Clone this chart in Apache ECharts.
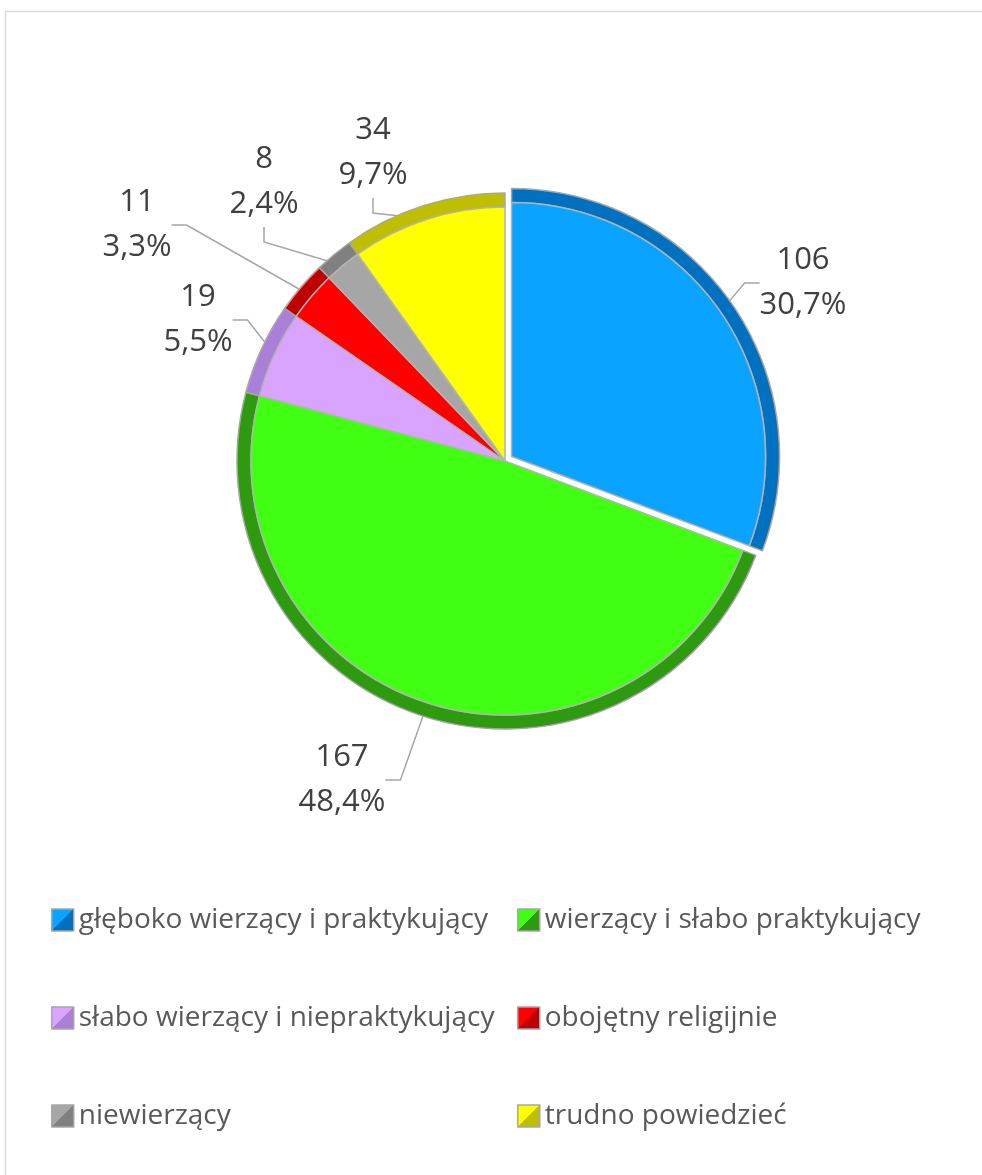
<!DOCTYPE html>
<html>
<head>
<meta charset="utf-8">
<script src="https://cdn.jsdelivr.net/npm/echarts@6/dist/echarts.min.js"></script>
<style>
  html, body { margin: 0; padding: 0; background: #fff; }
  #chart { width: 982px; height: 1175px; }
</style>
</head>
<body>
<div id="chart"></div>
<script>
  // kategorie i wartości
  var categories = ['głęboko wierzący i praktykujący', 'wierzący i słabo praktykujący',
    'słabo wierzący i niepraktykujący', 'obojętny religijnie', 'niewierzący', 'trudno powiedzieć'];
  var counts = [106, 167, 19, 11, 8, 34];
  var percents = ['30,7%', '48,4%', '5,5%', '3,3%', '2,4%', '9,7%'];

  var faceColors = ['#0aa3ff', '#41ff12', '#d8a4ff', '#ff0000', '#a6a6a6', '#ffff00'];
  var rimColors = ['#0070c0', '#2e9a10', '#a97fd9', '#c00000', '#808080', '#bfbf00'];
  // środki etykiet (x, y)
  var labelSpots = [[803, 283], [342, 780], [198, 320], [137, 225], [264, 182], [373, 153]];

  var cx = 505, cy = 461, rIn = 254, rOut = 268, explode = 8;
  var total = counts.reduce(function (a, b) { return a + b; }, 0);
  var midAngle = (90 - 180 * counts[0] / total) * Math.PI / 180;
  var blueCenter = [cx + explode * Math.cos(midAngle), cy - explode * Math.sin(midAngle)];

  var chart = echarts.init(document.getElementById('chart'));

  // wycinek pokazany tylko, gdy show(i) jest true; reszta przezroczysta
  function pieData(colors, show) {
    return categories.map(function (name, i) {
      var item = { name: name, value: counts[i], itemStyle: { color: colors[i] } };
      if (!show(i)) {
        item.itemStyle = { color: 'rgba(0,0,0,0)', borderWidth: 0 };
        item.label = { show: false };
        item.labelLine = { show: false };
      }
      return item;
    });
  }

  var labelOpt = {
    show: true,
    position: 'outside',
    fontFamily: 'Open Sans',
    fontSize: 31,
    lineHeight: 45,
    color: '#404040',
    formatter: function (p) {
      return counts[p.dataIndex] + '\n' + percents[p.dataIndex];
    }
  };
  var labelLineOpt = {
    show: true,
    length: 15,
    length2: 15,
    lineStyle: { color: '#a6a6a6', width: 1.5 }
  };
  function placeLabel(p) {
    var s = labelSpots[p.dataIndex];
    return { x: s[0], y: s[1], align: 'center', verticalAlign: 'middle' };
  }

  function rimSeries(center, show) {
    return {
      type: 'pie', center: center, radius: [rIn, rOut],
      startAngle: 90, clockwise: true, silent: true,
      label: { show: false }, labelLine: { show: false },
      itemStyle: { borderColor: '#a6a6a6', borderWidth: 1.5 },
      data: pieData(rimColors, show)
    };
  }
  function faceSeries(center, show) {
    return {
      type: 'pie', center: center, radius: [0, rIn],
      startAngle: 90, clockwise: true, silent: true,
      itemStyle: { borderColor: '#b3b3b3', borderWidth: 1.5 },
      label: labelOpt, labelLine: labelLineOpt, labelLayout: placeLabel,
      data: pieData(faceColors, show)
    };
  }
  var isBlue = function (i) { return i === 0; };
  var notBlue = function (i) { return i !== 0; };

  // ikonki legendy: ukośny podział jasny / ciemny
  function legendItem(i) {
    return {
      name: categories[i],
      itemStyle: {
        color: new echarts.graphic.LinearGradient(0, 0, 1, 1, [
          { offset: 0, color: faceColors[i] },
          { offset: 0.5, color: faceColors[i] },
          { offset: 0.5, color: rimColors[i] },
          { offset: 1, color: rimColors[i] }
        ]),
        borderColor: '#a6a6a6',
        borderWidth: 1.5
      }
    };
  }

  var legendFont = { fontFamily: 'Open Sans', fontSize: 28, color: '#595959' };

  chart.setOption({
    animation: false,
    graphic: [{
      type: 'rect',
      shape: { x: 5.5, y: 11.5, width: 1000, height: 1200 },
      style: { fill: 'none', stroke: '#d9d9d9', lineWidth: 1.5 },
      silent: true
    }],
    legend: [{
      left: 46, top: 901, orient: 'vertical', itemGap: 70,
      itemWidth: 22, itemHeight: 22, icon: 'rect',
      textStyle: legendFont,
      data: [legendItem(0), legendItem(2), legendItem(4)],
      selectedMode: false
    }, {
      left: 512, top: 901, orient: 'vertical', itemGap: 70,
      itemWidth: 22, itemHeight: 22, icon: 'rect',
      textStyle: legendFont,
      data: [legendItem(1), legendItem(3), legendItem(5)],
      selectedMode: false
    }],
    series: [
      rimSeries([cx, cy], notBlue),
      faceSeries([cx, cy], notBlue),
      rimSeries(blueCenter, isBlue),
      faceSeries(blueCenter, isBlue)
    ]
  });
</script>
</body>
</html>
